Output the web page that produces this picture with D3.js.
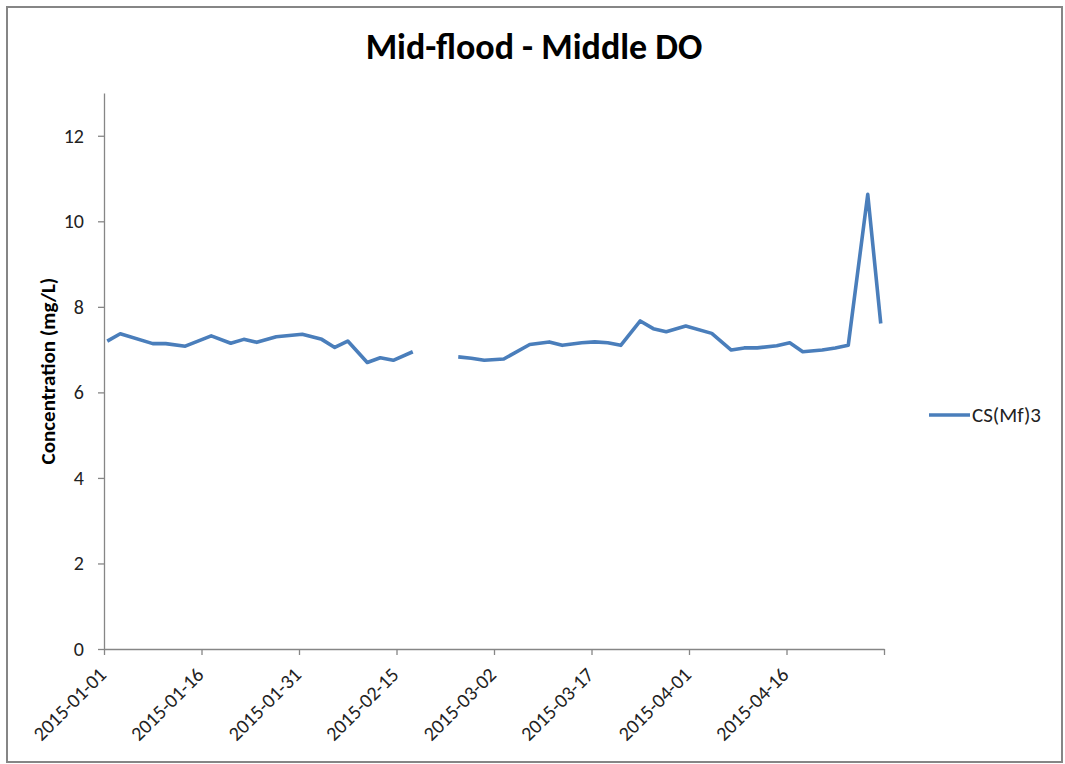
<!DOCTYPE html>
<html>
<head>
<meta charset="utf-8">
<script src="https://cdn.jsdelivr.net/npm/d3@7"></script>
<style>
  html, body { margin: 0; padding: 0; background: #fff; }
  svg { display: block; font-family: Carlito, Calibri, "Open Sans", sans-serif; }
</style>
</head>
<body>
<svg id="chart" width="1065" height="764"></svg>
<script>
// Sampling dates and DO readings for CS(Mf)3 (null = missing, gap in line)
const dates = [
  '2015-01-01', '2015-01-03', '2015-01-08', '2015-01-10', '2015-01-13', '2015-01-17',
  '2015-01-20', '2015-01-22', '2015-01-24', '2015-01-27', '2015-01-31', '2015-02-03',
  '2015-02-05', '2015-02-07', '2015-02-10', '2015-02-12', '2015-02-14', '2015-02-17',
  '2015-02-21', '2015-02-24', '2015-02-26', '2015-02-28', '2015-03-03', '2015-03-07',
  '2015-03-10', '2015-03-12', '2015-03-15', '2015-03-17', '2015-03-19', '2015-03-21',
  '2015-03-24', '2015-03-26', '2015-03-28', '2015-03-31', '2015-04-04', '2015-04-07',
  '2015-04-09', '2015-04-11', '2015-04-14', '2015-04-16', '2015-04-18', '2015-04-21',
  '2015-04-23', '2015-04-25', '2015-04-28', '2015-04-30'
];
const values = [
  7.20, 7.37, 7.14, 7.14, 7.08, 7.32,
  7.15, 7.24, 7.17, 7.30, 7.36, 7.24,
  7.05, 7.20, 6.70, 6.81, 6.75, 6.95,
  null, 6.83, 6.80, 6.75, 6.78, 7.12,
  7.18, 7.10, 7.16, 7.18, 7.16, 7.10,
  7.67, 7.49, 7.42, 7.55, 7.38, 6.99,
  7.04, 7.04, 7.09, 7.16, 6.95, 6.99,
  7.04, 7.10, 10.63, 7.61
];
const seriesName = 'CS(Mf)3';
const title = 'Mid-flood - Middle DO';
const yLabel = 'Concentration (mg/L)';
const xTicks = ['2015-01-01', '2015-01-16', '2015-01-31', '2015-02-15', '2015-03-02',
                '2015-03-17', '2015-04-01', '2015-04-16', '2015-05-01'];
const yTicks = [0, 2, 4, 6, 8, 10, 12];

const parse = d3.utcParse('%Y-%m-%d');
const fmt = d3.utcFormat('%Y-%m-%d');
const data = dates.map((d, i) => ({ date: parse(d), value: values[i] }));

const svg = d3.select('#chart');
const plot = { left: 104, right: 884, top: 93, bottom: 649 };
const lineColor = '#4a7ebb';
const axisColor = '#868686';
const fontStack = 'Carlito, Calibri, "Open Sans", sans-serif';

// outer chart frame
svg.append('rect')
  .attr('x', 7).attr('y', 7).attr('width', 1055).attr('height', 755)
  .attr('fill', '#fff').attr('stroke', axisColor).attr('stroke-width', 2);

const x = d3.scaleUtc()
  .domain([parse('2015-01-01'), parse('2015-05-01')])
  .range([plot.left, plot.right]);
const y = d3.scaleLinear().domain([0, 13]).range([plot.bottom, plot.top]);

// points sit in the middle of each day's slot (Excel date axis between ticks)
const xMid = d => x(d3.utcHour.offset(d, 12));

// y axis
const yAxis = svg.append('g')
  .attr('transform', `translate(${plot.left},0)`)
  .call(d3.axisLeft(y).tickValues(yTicks).tickSize(6).tickSizeOuter(0).tickPadding(14))
  .attr('font-family', fontStack);
yAxis.select('.domain').attr('stroke', axisColor).attr('stroke-width', 1.3);
yAxis.selectAll('.tick line').attr('stroke', axisColor).attr('stroke-width', 1.3);
yAxis.selectAll('text').attr('fill', '#222').style('font-size', '20px');

// x axis
const lastTickDate = xTicks[xTicks.length - 1];
const xAxis = svg.append('g')
  .attr('transform', `translate(0,${plot.bottom})`)
  .call(d3.axisBottom(x).tickValues(xTicks.map(parse)).tickSize(6).tickSizeOuter(0)
    .tickFormat(d => fmt(d) === lastTickDate ? '' : fmt(d)))
  .attr('font-family', fontStack);
xAxis.select('.domain').attr('stroke', axisColor).attr('stroke-width', 1.3);
xAxis.selectAll('.tick line').attr('stroke', axisColor).attr('stroke-width', 1.3);
xAxis.selectAll('text')
  .attr('fill', '#222').style('font-size', '20px')
  .attr('text-anchor', 'end')
  .attr('dy', null).attr('y', 0)
  .attr('transform', 'translate(3,27) rotate(-45)');

// series line
const line = d3.line()
  .defined(d => d.value != null)
  .x(d => xMid(d.date))
  .y(d => y(d.value));

svg.append('path')
  .datum(data)
  .attr('fill', 'none')
  .attr('stroke', lineColor)
  .attr('stroke-width', 3.6)
  .attr('stroke-linejoin', 'round')
  .attr('d', line);

// title
svg.append('text')
  .attr('x', 534).attr('y', 59)
  .attr('text-anchor', 'middle')
  .attr('font-weight', 'bold')
  .style('font-size', '36px')
  .attr('fill', '#000')
  .text(title);

// y axis title
svg.append('text')
  .attr('transform', `translate(55,${(plot.top + plot.bottom) / 2}) rotate(-90)`)
  .attr('text-anchor', 'middle')
  .attr('font-weight', 'bold')
  .style('font-size', '21px')
  .attr('fill', '#000')
  .text(yLabel);

// legend
const legend = svg.append('g').attr('transform', 'translate(929,415)');
legend.append('line')
  .attr('x1', 0).attr('x2', 41).attr('y1', 0).attr('y2', 0)
  .attr('stroke', lineColor).attr('stroke-width', 3.6);
legend.append('text')
  .attr('x', 43).attr('y', 7)
  .style('font-size', '21px')
  .attr('fill', '#222')
  .text(seriesName);
</script>
</body>
</html>
